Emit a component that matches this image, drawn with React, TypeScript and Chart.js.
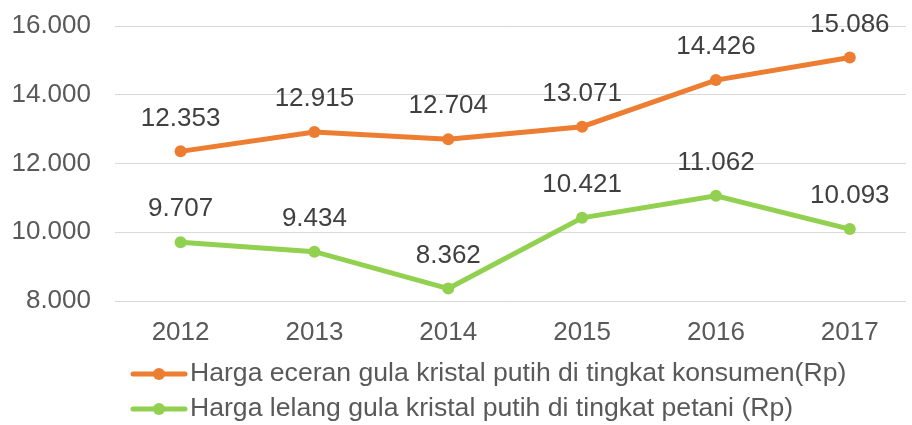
import React, { useEffect, useRef } from "react";
import { Chart, registerables } from "chart.js";

Chart.register(...registerables);

const years = ["2012", "2013", "2014", "2015", "2016", "2017"];
const konsumen = [12353, 12915, 12704, 13071, 14426, 15086];
const petani = [9707, 9434, 8362, 10421, 11062, 10093];
const seriesNames = [
  "Harga eceran gula kristal putih di tingkat konsumen(Rp)",
  "Harga lelang gula kristal putih di tingkat petani (Rp)",
];
const yTicks = [8000, 10000, 12000, 14000, 16000];

const FONT = "'Liberation Sans', Arial, sans-serif";

function fmt(v: number): string {
  const s = Math.round(v).toString();
  return s.replace(/\B(?=(\d{3})+(?!\d))/g, ".");
}

const dataLabelPlugin = {
  id: "dataLabels",
  afterDatasetsDraw(chart: any) {
    const ctx = chart.ctx;
    ctx.save();
    ctx.font = `26px ${FONT}`;
    ctx.fillStyle = "#404040";
    ctx.textAlign = "center";
    ctx.textBaseline = "middle";
    chart.data.datasets.forEach((ds: any, di: number) => {
      const meta = chart.getDatasetMeta(di);
      meta.data.forEach((pt: any, i: number) => {
        ctx.fillText(fmt(ds.data[i].y), pt.x, pt.y - 33);
      });
    });
    ctx.restore();
  },
};

const legendPlugin = {
  id: "customLegend",
  afterDraw(chart: any) {
    const ctx = chart.ctx;
    const left = chart.chartArea.left + 16;
    const rowY = [374, 409];
    ctx.save();
    chart.data.datasets.forEach((ds: any, di: number) => {
      const y = rowY[di];
      ctx.strokeStyle = ds.borderColor;
      ctx.lineWidth = 5;
      ctx.lineCap = "round";
      ctx.beginPath();
      ctx.moveTo(left + 2, y);
      ctx.lineTo(left + 54, y);
      ctx.stroke();
      ctx.fillStyle = ds.borderColor;
      ctx.beginPath();
      ctx.arc(left + 28, y, 6, 0, Math.PI * 2);
      ctx.fill();
      ctx.font = `26.6px ${FONT}`;
      ctx.fillStyle = "#595959";
      ctx.textAlign = "left";
      ctx.textBaseline = "middle";
      ctx.fillText(ds.label, left + 59, y);
    });
    ctx.restore();
  },
};

const fitX = (scale: any) => {
  scale.paddingLeft = 0;
  scale.paddingRight = 0;
  scale.height = 47;
};
const fitY = (scale: any) => {
  scale.paddingTop = 0;
  scale.paddingBottom = 0;
  scale.width = 103;
};

export default function App() {
  const ref = useRef<HTMLCanvasElement | null>(null);
  useEffect(() => {
    if (!ref.current) return;
    const chart = new Chart(ref.current, {
      type: "line",
      data: {
        datasets: [
          {
            label: seriesNames[0],
            data: konsumen.map((v, i) => ({ x: i, y: v })),
            borderColor: "#ED7D31",
            backgroundColor: "#ED7D31",
            borderWidth: 5,
            pointRadius: 6,
            pointBorderWidth: 0,
            pointBackgroundColor: "#ED7D31",
            tension: 0,
          },
          {
            label: seriesNames[1],
            data: petani.map((v, i) => ({ x: i, y: v })),
            borderColor: "#92D050",
            backgroundColor: "#92D050",
            borderWidth: 5,
            pointRadius: 6,
            pointBorderWidth: 0,
            pointBackgroundColor: "#92D050",
            tension: 0,
          },
        ],
      },
      options: {
        animation: false,
        responsive: false,
        maintainAspectRatio: false,
        layout: { padding: { left: 12, right: 2, top: 26, bottom: 77 } },
        plugins: {
          legend: { display: false },
          tooltip: { enabled: false },
        },
        scales: {
          x: {
            type: "linear",
            min: -0.49,
            max: 5.42,
            afterBuildTicks: (scale: any) => {
              scale.ticks = years.map((_, i) => ({ value: i }));
            },
            afterFit: fitX,
            grid: { display: false, drawTicks: false },
            border: { display: false },
            ticks: {
              padding: 16,
              color: "#595959",
              font: { family: FONT, size: 26 },
              maxRotation: 0,
              autoSkip: false,
              callback: (v: any) => years[Math.round(Number(v))] ?? "",
            },
          },
          y: {
            min: yTicks[0],
            max: yTicks[yTicks.length - 1],
            afterBuildTicks: (scale: any) => {
              scale.ticks = yTicks.map((v) => ({ value: v }));
            },
            afterFit: fitY,
            grid: { color: "#D9D9D9", lineWidth: 1, drawTicks: false },
            border: { display: false },
            ticks: {
              padding: 24,
              color: "#595959",
              font: { family: FONT, size: 26 },
              callback: (v: any) => fmt(Number(v)),
            },
          },
        },
      },
      plugins: [dataLabelPlugin, legendPlugin],
    });
    return () => chart.destroy();
  }, []);
  return (
    <div style={{ position: "absolute", left: 0, top: 0, width: 912, height: 425, background: "#fff" }}>
      <canvas ref={ref} width={912} height={425} style={{ display: "block" }} />
    </div>
  );
}
